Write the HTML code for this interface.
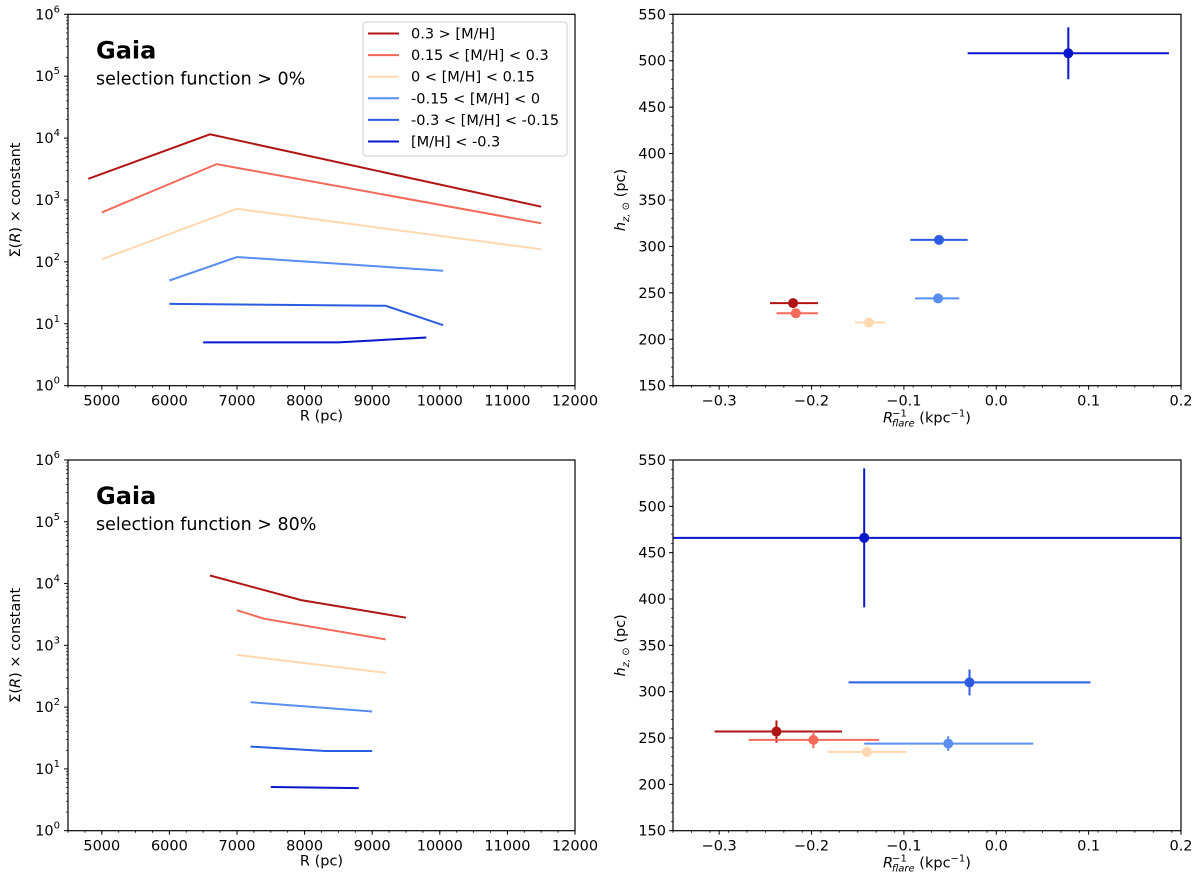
<!DOCTYPE html>
<html><head><meta charset="utf-8"><style>
body{margin:0;background:#fff;}
svg{display:block;font-family:"DejaVu Sans","Liberation Sans",sans-serif;}
</style></head><body>
<svg id="fig" width="1200" height="890" viewBox="0 0 1200 890" xmlns="http://www.w3.org/2000/svg"></svg>
<script>
const seriesNames = ["0.3 > [M/H]","0.15 < [M/H] < 0.3","0 < [M/H] < 0.15","-0.15 < [M/H] < 0","-0.3 < [M/H] < -0.15","[M/H] < -0.3"];
const seriesColors = ["#b01515","#f46a5a","#fdd8b0","#5a8ef0","#2c5de0","#0a16cc"];
// top-left profiles: R (pc), Sigma
const tlR = [[4800,6600,11500],[5000,6700,11500],[5000,7000,11500],[6000,7000,10050],[6000,9200,10050],[6500,8500,9800]];
const tlS = [[2200,11500,780],[630,3800,420],[110,720,160],[50,120,72],[21,19.5,9.5],[5,5,6]];
// bottom-left profiles
const blR = [[6600,7950,9500],[7000,7400,9200],[7000,9200],[7200,9000],[7200,8300,9000],[7500,8800]];
const blS = [[13500,5400,2800],[3700,2700,1250],[700,360],[120,85],[23,19.5,19.5],[5.1,4.9]];
// top-right errorbars
const trX = [-0.22,-0.217,-0.138,-0.063,-0.062,0.078];
const trY = [239,228,218,244,307,508];
const trXlo = [-0.245,-0.238,-0.153,-0.088,-0.093,-0.031];
const trXhi = [-0.193,-0.193,-0.12,-0.04,-0.031,0.187];
const trYerr = [1,1,1,1,5,28];
// bottom-right errorbars
const brX = [-0.238,-0.198,-0.14,-0.052,-0.029,-0.143];
const brY = [257,248,235,244,310,466];
const brXlo = [-0.305,-0.268,-0.183,-0.143,-0.16,-0.36];
const brXhi = [-0.167,-0.127,-0.097,0.04,0.102,0.21];
const brYerr = [12,9,3,8,14,75];
const rTicks = [5000,6000,7000,8000,9000,10000,11000,12000];
const logTicks = [0,1,2,3,4,5,6];
const invTicks = [-0.3,-0.2,-0.1,0.0,0.1,0.2];
const invTickLabels = ["\u22120.3","\u22120.2","\u22120.1","0.0","0.1","0.2"];
const hTicks = [150,200,250,300,350,400,450,500,550];

const FS=14.5;
const NS="http://www.w3.org/2000/svg";
const svg=document.getElementById('fig');
function el(tag,attrs,parent,text){const e=document.createElementNS(NS,tag);for(const k in attrs)e.setAttribute(k,attrs[k]);if(text!==undefined)e.textContent=text;(parent||svg).appendChild(e);return e;}

function panel(name){
  const g=el('g',{});
  
  
  return g;
}
function frame(g,L,R,T,B){
  const r=el('rect',{x:L,y:T,width:R-L,height:B-T,fill:'none',stroke:'#000','stroke-width':1.2},g);
  
  
}

function leftPanel(name,T,B,Rs,Ss,title,sub,legend){
  const L=68,Rr=575;
  const g=panel(name);
  const xs=v=>L+(v-4500)/(12000-4500)*(Rr-L);
  const ys=v=>B-(Math.log10(v)-0)/6*(B-T);
  for(let i=0;i<Rs.length;i++){
    const pts=Rs[i].map((r,j)=>xs(r).toFixed(1)+','+ys(Ss[i][j]).toFixed(1)).join(' ');
    const p=el('polyline',{points:pts,fill:'none',stroke:seriesColors[i],'stroke-width':2},g);
    
    
  }
  frame(g,L,Rr,T,B);
  for(let v=4500;v<=12000;v+=250){const x=xs(v);el('line',{x1:x,y1:B,x2:x,y2:B+2,stroke:'#000','stroke-width':0.8},g);}
  rTicks.forEach(v=>{const x=xs(v);el('line',{x1:x,y1:B,x2:x,y2:B+4,stroke:'#000','stroke-width':1},g);
    const t=el('text',{x:x,y:B+20,'text-anchor':'middle','font-size':FS},g,String(v));
    
    });
  logTicks.forEach(d=>{const y=ys(Math.pow(10,d));el('line',{x1:L,y1:y,x2:L-4,y2:y,stroke:'#000','stroke-width':1},g);
    const t=el('text',{x:L-8,y:y+5,'text-anchor':'end','font-size':FS},g);
    el('tspan',{},t,'10');el('tspan',{dy:-7,'font-size':10},t,String(d));
    
    
    if(d<6)for(let m=2;m<10;m++){const yy=ys(m*Math.pow(10,d));el('line',{x1:L,y1:yy,x2:L-2,y2:yy,stroke:'#000','stroke-width':0.7},g);}
  });
  const xl=el('text',{x:(L+Rr)/2,y:B+35,'text-anchor':'middle','font-size':FS},g,'R (pc)');
  
  const yl=el('text',{x:0,y:0,transform:`translate(20,${(T+B)/2}) rotate(-90)`,'text-anchor':'middle','font-size':FS},g);
  el('tspan',{},yl,'Σ(');el('tspan',{'font-style':'italic'},yl,'R');el('tspan',{},yl,') × constant');
  
  const tt=el('text',{x:96,y:T+44,'font-size':24,'font-weight':'bold'},g,title);
  
  const st=el('text',{x:96,y:T+70,'font-size':17.5},g,sub);
  
  if(legend){
    const lg=el('g',{},g);
    
    el('rect',{x:363,y:22,width:204,height:134,rx:3,fill:'#fff',stroke:'#ccc','stroke-width':1},lg);
    seriesNames.forEach((n,i)=>{const y=33.5+i*21.6;
      const e=el('g',{},lg);
      el('line',{x1:368,y1:y,x2:399,y2:y,stroke:seriesColors[i],'stroke-width':2},e);
      el('text',{x:411,y:y+5,'font-size':FS},e,n);});
  }
}

function rightPanel(name,T,B,X,Y,Xlo,Xhi,Yerr){
  const L=673,Rr=1181;
  const g=panel(name);
  const xs=v=>L+(v+0.35)/0.55*(Rr-L);
  const ys=v=>B-(v-150)/400*(B-T);
  const cl=document.createElementNS(NS,'clipPath');cl.setAttribute('id','c'+name);
  el('rect',{x:L,y:T,width:Rr-L,height:B-T},cl);g.appendChild(cl);
  const pg=el('g',{'clip-path':`url(#c${name})`},g);
  for(let i=0;i<X.length;i++){
    const e=el('g',{},pg);
    
    
    const c=seriesColors[i];
    el('line',{x1:xs(Xlo[i]),y1:ys(Y[i]),x2:xs(Xhi[i]),y2:ys(Y[i]),stroke:c,'stroke-width':2},e);
    el('line',{x1:xs(X[i]),y1:ys(Y[i]-Yerr[i]),x2:xs(X[i]),y2:ys(Y[i]+Yerr[i]),stroke:c,'stroke-width':2},e);
    el('circle',{cx:xs(X[i]),cy:ys(Y[i]),r:5,fill:c},e);
  }
  frame(g,L,Rr,T,B);
  for(let v=-0.35;v<=0.2001;v+=0.02){const x=xs(v);el('line',{x1:x,y1:B,x2:x,y2:B+2,stroke:'#000','stroke-width':0.8},g);}
  invTicks.forEach((v,k)=>{const x=xs(v);el('line',{x1:x,y1:B,x2:x,y2:B+4,stroke:'#000','stroke-width':1},g);
    const t=el('text',{x:x,y:B+20,'text-anchor':'middle','font-size':FS},g,invTickLabels[k]);
    });
  for(let v=150;v<=550;v+=10){const y=ys(v);el('line',{x1:L,y1:y,x2:L-2,y2:y,stroke:'#000','stroke-width':0.7},g);}
  hTicks.forEach(v=>{const y=ys(v);el('line',{x1:L,y1:y,x2:L-4,y2:y,stroke:'#000','stroke-width':1},g);
    const t=el('text',{x:L-7,y:y+5,'text-anchor':'end','font-size':FS},g,String(v));
    });
  const xl=el('text',{x:(L+Rr)/2,y:B+37,'text-anchor':'middle','font-size':FS},g);
  el('tspan',{'font-style':'italic'},xl,'R');
  el('tspan',{dy:-6,'font-size':10,dx:-1},xl,'−1');
  el('tspan',{dy:10,'font-size':10,'font-style':'italic',dx:-15},xl,'flare');
  el('tspan',{dy:-4},xl,' (kpc');el('tspan',{dy:-6,'font-size':10},xl,'−1');el('tspan',{dy:6},xl,')');
  
  const yl=el('text',{x:0,y:0,transform:`translate(625,${(T+B)/2}) rotate(-90)`,'text-anchor':'middle','font-size':FS},g);
  el('tspan',{'font-style':'italic'},yl,'h');el('tspan',{dy:4,'font-size':10,'font-style':'italic'},yl,'z, ⊙');el('tspan',{dy:-4},yl,' (pc)');
  
}

leftPanel('profile-panel-sf0',14.3,385.7,tlR,tlS,'Gaia','selection function > 0%',true);
rightPanel('flare-panel-sf0',14.3,385.7,trX,trY,trXlo,trXhi,trYerr);
leftPanel('profile-panel-sf80',460,830.7,blR,blS,'Gaia','selection function > 80%',false);
rightPanel('flare-panel-sf80',460,830.7,brX,brY,brXlo,brXhi,brYerr);
</script>
</body></html>
